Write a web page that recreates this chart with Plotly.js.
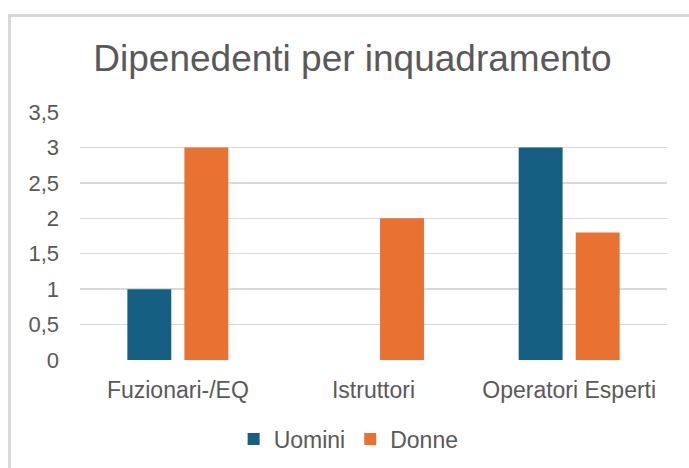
<!DOCTYPE html>
<html>
<head>
<meta charset="utf-8">
<script src="https://cdn.plot.ly/plotly-3.0.1.min.js"></script>
<style>
  html, body { margin: 0; padding: 0; background: #ffffff; }
  #wrap { position: relative; width: 689px; height: 468px; overflow: hidden; }
  #chart { position: absolute; left: 0; top: 0; width: 689px; height: 468px; }
  #frame { position: absolute; left: 8px; top: 14px; width: 700px; height: 480px;
           border-left: 3px solid #d9d9d9; border-top: 3px solid #d9d9d9; pointer-events: none; }
</style>
</head>
<body>
<div id="wrap">
  <div id="chart"></div>
  <div id="frame"></div>
</div>
<script>
const categories = ["Fuzionari-/EQ", "Istruttori", "Operatori Esperti"];
const uomini = [1, 0, 3];
const donne = [3, 2, 1.8];
const seriesNames = ["Uomini", "Donne"];
const tickValues = [0, 0.5, 1, 1.5, 2, 2.5, 3, 3.5];
const tickLabels = ["0", "0,5", "1", "1,5", "2", "2,5", "3", "3,5"];

const textColor = "#595959";
const fontFamily = "'Liberation Sans', Arial, sans-serif";

const data = [
  { type: "bar", name: seriesNames[0], x: categories, y: uomini,
    marker: { color: "#156082" }, hoverinfo: "x+y+name" },
  { type: "bar", name: seriesNames[1], x: categories, y: donne,
    marker: { color: "#E97132" }, hoverinfo: "x+y+name" }
];

const layout = {
  width: 689, height: 468,
  paper_bgcolor: "rgba(0,0,0,0)", plot_bgcolor: "#ffffff",
  margin: { l: 80, r: 22, t: 112, b: 108 },
  font: { family: fontFamily, color: textColor },
  title: { text: "Dipenedenti per inquadramento",
           font: { family: fontFamily, size: 37, color: textColor },
           xref: "container", x: 0.5116, xanchor: "center",
           yref: "container", y: 0.876, yanchor: "middle" },
  barmode: "group", bargap: 0.417, bargroupgap: 0.23,
  xaxis: { type: "category", showgrid: false, zeroline: false, showline: false,
           ticks: "", ticklabelstandoff: 14,
           tickfont: { family: fontFamily, size: 23, color: textColor } },
  yaxis: { range: [0, 3.5], tickvals: tickValues, ticktext: tickLabels,
           showgrid: true, gridcolor: "#d9d9d9", gridwidth: 1.3,
           zeroline: false, showline: false, ticks: "", ticklabelstandoff: 20,
           tickfont: { family: fontFamily, size: 22, color: textColor } },
  showlegend: true,
  legend: { orientation: "h", xref: "container", x: 0.506, xanchor: "center",
            yref: "container", y: 0.062, yanchor: "middle",
            font: { family: fontFamily, size: 23, color: textColor },
            itemwidth: 30, tracegroupgap: 0, bgcolor: "rgba(0,0,0,0)" }
};

Plotly.newPlot("chart", data, layout, { displayModeBar: false, staticPlot: true });
</script>
</body>
</html>
